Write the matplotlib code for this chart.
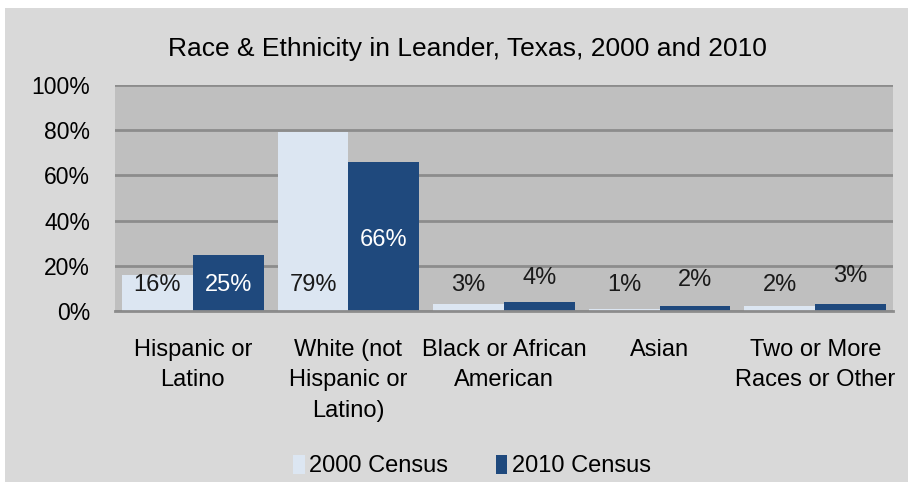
import matplotlib
matplotlib.use("Agg")
import matplotlib.pyplot as plt
import numpy as np

categories = ["Hispanic or\nLatino", "White (not\nHispanic or\nLatino)", "Black or African\nAmerican", "Asian", "Two or More\nRaces or Other"]
census_2000 = [16, 79, 3, 1, 2]
census_2010 = [25, 66, 4, 2, 3]
labels_2000 = ["16%", "79%", "3%", "1%", "2%"]
labels_2010 = ["25%", "66%", "4%", "2%", "3%"]
yticks = [0, 20, 40, 60, 80, 100]

# label placement (layout)
label_y_2000 = [11.5, 11.5, 11.5, 11.5, 11.5]
label_y_2010 = [11.5, 31.5, 14.5, 13.5, 15.5]

plt.rcParams['font.family'] = ['Liberation Sans', 'DejaVu Sans']

fig = plt.figure(figsize=(9.11, 4.82), dpi=100)
fig.patch.set_facecolor("white")
bg = plt.Rectangle((5/911, 0), 903/911, 474/482, transform=fig.transFigure,
                   facecolor="#d9d9d9", edgecolor="none", zorder=-10)
fig.patches.append(bg)

ax = fig.add_axes([115/911, 1 - 311/482, 778/911, 226/482])
ax.set_facecolor("#bfbfbf")
x = np.arange(len(categories))
w = 0.455
c1 = "#dce6f2"
c2 = "#1f497d"
ax.bar(x - w/2, census_2000, w, color=c1, zorder=3, label="2000 Census")
ax.bar(x + w/2, census_2010, w, color=c2, zorder=3, label="2010 Census")
ax.set_xlim(-0.5, len(categories) - 0.5)
ax.set_ylim(0, 100)
ax.set_yticks(yticks)
ax.set_yticklabels([f"{t}%" for t in yticks], fontsize=16.5)
ax.yaxis.grid(True, color="#8c8c8c", linewidth=2, zorder=0)
ax.set_axisbelow(True)
for s in ["top", "right", "left"]:
    ax.spines[s].set_visible(False)
ax.spines["bottom"].set_color("#8c8c8c")
ax.spines["bottom"].set_linewidth(2)
ax.spines["bottom"].set_zorder(4)
ax.tick_params(axis="y", length=0, pad=18)
ax.tick_params(axis="x", length=0, pad=20)
ax.set_xticks(x)
ax.set_xticklabels(categories, fontsize=17, linespacing=1.5, va="top")

for i in range(len(categories)):
    ax.text(x[i] - w/2, label_y_2000[i], labels_2000[i], ha="center", va="center",
            fontsize=17, color="#1a1a1a", zorder=5)
    col = "white" if census_2010[i] > 20 else "#1a1a1a"
    ax.text(x[i] + w/2, label_y_2010[i], labels_2010[i], ha="center", va="center",
            fontsize=17, color=col, zorder=5)

fig.text(467/911, 1 - 49/482, "Race & Ethnicity in Leander, Texas, 2000 and 2010",
         ha="center", va="center", fontsize=19)

fig.legend(loc="center", bbox_to_anchor=(472/911, 1 - 466/482), ncol=2, frameon=False,
           fontsize=17, handlelength=0.5, handleheight=0.9, handletextpad=0.2,
           columnspacing=2.0)

fig.savefig("out.png", dpi=100, facecolor=fig.get_facecolor())
